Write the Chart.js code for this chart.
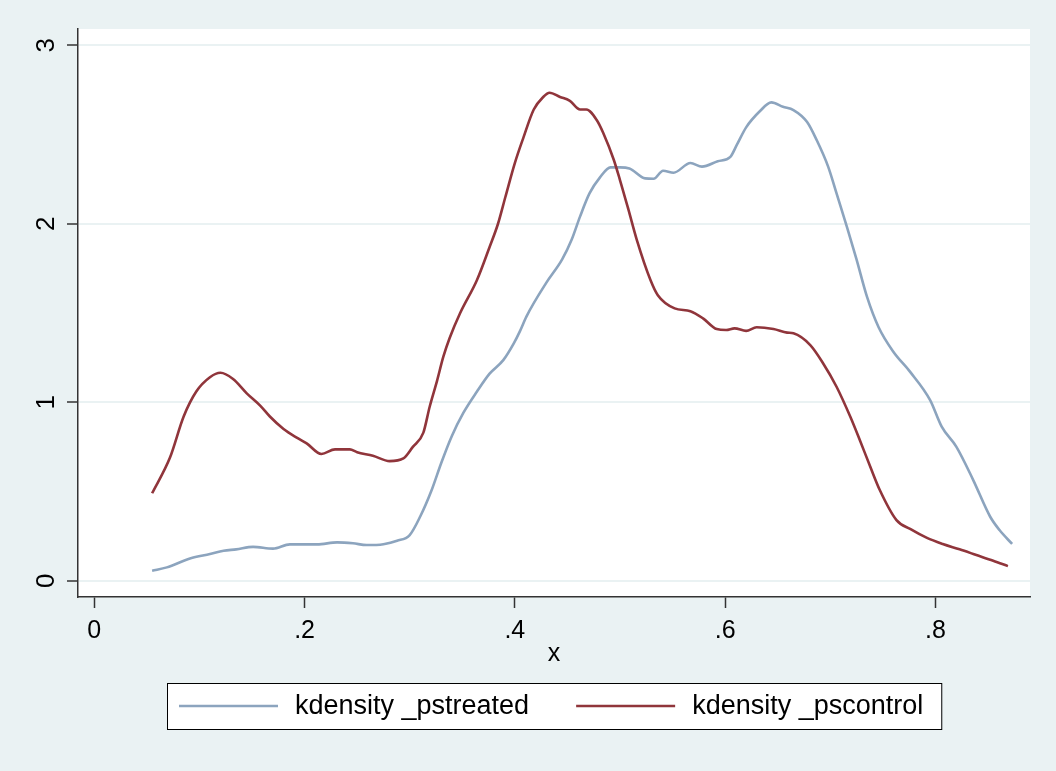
<!DOCTYPE html>
<html>
<head>
<meta charset="utf-8">
<script src="https://cdn.jsdelivr.net/npm/chart.js@4"></script>
<style>
  html, body { margin: 0; padding: 0; background: #eaf2f3; }
</style>
</head>
<body>
<canvas id="c" width="1056" height="771"></canvas>
<script>
// kdensity of the propensity score
const treatedX = [0.055, 0.069, 0.091, 0.110, 0.123, 0.135, 0.151, 0.170, 0.186, 0.212, 0.231, 0.246,
  0.259, 0.275, 0.288, 0.300, 0.310, 0.321, 0.330, 0.340, 0.351, 0.364, 0.376, 0.389, 0.399, 0.405,
  0.411, 0.430, 0.445, 0.454, 0.462, 0.471, 0.481, 0.491, 0.500, 0.509, 0.524, 0.532, 0.541, 0.551,
  0.567, 0.578, 0.593, 0.605, 0.611, 0.620, 0.633, 0.644, 0.655, 0.665, 0.678, 0.687, 0.698, 0.706,
  0.716, 0.725, 0.735, 0.746, 0.760, 0.776, 0.795, 0.806, 0.820, 0.836, 0.852, 0.861, 0.873]
const treatedY = [0.056, 0.075, 0.125, 0.150, 0.168, 0.176, 0.190, 0.180, 0.204, 0.204, 0.215, 0.210,
  0.200, 0.205, 0.224, 0.256, 0.360, 0.510, 0.660, 0.810, 0.940, 1.060, 1.160, 1.236, 1.330, 1.400,
  1.480, 1.670, 1.800, 1.910, 2.040, 2.170, 2.260, 2.316, 2.316, 2.310, 2.254, 2.252, 2.297, 2.286,
  2.340, 2.320, 2.350, 2.375, 2.440, 2.540, 2.630, 2.680, 2.655, 2.637, 2.570, 2.470, 2.320, 2.170,
  1.980, 1.800, 1.590, 1.420, 1.283, 1.170, 1.012, 0.863, 0.750, 0.564, 0.360, 0.284, 0.206]

const controlX = [0.055, 0.072, 0.085, 0.097, 0.110, 0.120, 0.132, 0.145, 0.158, 0.167, 0.180, 0.193,
  0.202, 0.216, 0.229, 0.243, 0.250, 0.265, 0.281, 0.294, 0.303, 0.313, 0.319, 0.326, 0.332, 0.338,
  0.348, 0.364, 0.376, 0.384, 0.391, 0.400, 0.408, 0.418, 0.427, 0.433, 0.443, 0.452, 0.462, 0.468,
  0.478, 0.484, 0.494, 0.500, 0.508, 0.516, 0.529, 0.536, 0.552, 0.567, 0.579, 0.592, 0.601, 0.609,
  0.620, 0.630, 0.646, 0.659, 0.665, 0.681, 0.693, 0.706, 0.719, 0.728, 0.738, 0.747, 0.763, 0.776,
  0.792, 0.807, 0.823, 0.839, 0.855, 0.869]
const controlY = [0.490, 0.690, 0.920, 1.060, 1.140, 1.165, 1.130, 1.050, 0.980, 0.920, 0.850, 0.800,
  0.770, 0.710, 0.736, 0.736, 0.720, 0.700, 0.670, 0.685, 0.750, 0.830, 0.975, 1.120, 1.255, 1.360,
  1.500, 1.685, 1.870, 2.000, 2.150, 2.340, 2.480, 2.640, 2.710, 2.734, 2.710, 2.690, 2.640, 2.640,
  2.580, 2.510, 2.360, 2.245, 2.080, 1.910, 1.685, 1.600, 1.526, 1.510, 1.470, 1.410, 1.405, 1.414,
  1.400, 1.420, 1.410, 1.390, 1.386, 1.320, 1.220, 1.087, 0.920, 0.790, 0.640, 0.510, 0.340, 0.290,
  0.240, 0.206, 0.176, 0.144, 0.112, 0.082]

const xTicks = [0, 0.2, 0.4, 0.6, 0.8]
const xTickLabels = ['0', '.2', '.4', '.6', '.8']
const yTicks = [0, 1, 2, 3]
const yTickLabels = ['0', '1', '2', '3']
const seriesLabels = ['kdensity _pstreated', 'kdensity _pscontrol']

const FONT = '"Liberation Sans", Arial, sans-serif'
const BG = '#eaf2f3'
const AXIS = '#333'

const plotBg = {
  id: 'plotBg',
  beforeDraw (chart) {
    const { ctx, chartArea: a } = chart
    ctx.save()
    ctx.fillStyle = BG
    ctx.fillRect(0, 0, chart.width, chart.height)
    ctx.fillStyle = '#fff'
    ctx.fillRect(a.left, a.top, a.right - a.left, a.bottom - a.top)
    ctx.restore()
  }
}

// Stata writes the y labels turned a quarter turn
const yLabels = {
  id: 'yLabels',
  afterDraw (chart) {
    const { ctx } = chart
    const y = chart.scales.y
    ctx.save()
    ctx.font = '26px ' + FONT
    ctx.fillStyle = '#000'
    ctx.textAlign = 'center'
    ctx.textBaseline = 'middle'
    yTicks.forEach((v, i) => {
      ctx.save()
      ctx.translate(47, y.getPixelForValue(v))
      ctx.rotate(-Math.PI / 2)
      ctx.fillText(yTickLabels[i], 0, 0)
      ctx.restore()
    })
    ctx.restore()
  }
}

// boxed legend under the plot
const legendBox = {
  id: 'legendBox',
  afterDraw (chart) {
    const { ctx, chartArea: a } = chart
    const sets = chart.data.datasets
    ctx.save()
    ctx.font = '27px ' + FONT
    const widths = sets.map(d => ctx.measureText(d.label).width)
    const sample = 99
    const gap = 17
    const between = 47
    const padL = 12
    const padR = 18
    let total = padL + padR + between * (sets.length - 1)
    widths.forEach(w => { total += sample + gap + w })
    const left = Math.round((a.left + a.right) / 2 - total / 2)
    const top = 683
    const height = 46
    ctx.fillStyle = '#fff'
    ctx.fillRect(left, top, total, height)
    ctx.strokeStyle = '#000'
    ctx.lineWidth = 1
    ctx.strokeRect(left + 0.5, top + 0.5, total, height)
    const mid = top + height / 2
    let x = left + padL
    sets.forEach((d, i) => {
      ctx.strokeStyle = d.borderColor
      ctx.lineWidth = d.borderWidth
      ctx.beginPath()
      ctx.moveTo(x, mid)
      ctx.lineTo(x + sample, mid)
      ctx.stroke()
      x += sample + gap
      ctx.fillStyle = '#000'
      ctx.textBaseline = 'middle'
      ctx.fillText(d.label, x, mid + 1)
      x += widths[i] + between
    })
    ctx.restore()
  }
}

const chart = new Chart(document.getElementById('c'), {
  type: 'line',
  data: {
    datasets: [{
      label: seriesLabels[0],
      data: treatedX.map((x, i) => ({ x, y: treatedY[i] })),
      borderColor: 'rgb(140, 164, 190)',
      borderWidth: 2.6,
      pointRadius: 0,
      cubicInterpolationMode: 'monotone',
      order: 2
    }, {
      label: seriesLabels[1],
      data: controlX.map((x, i) => ({ x, y: controlY[i] })),
      borderColor: 'rgb(144, 53, 59)',
      borderWidth: 2.6,
      pointRadius: 0,
      cubicInterpolationMode: 'monotone',
      order: 1
    }]
  },
  options: {
    responsive: false,
    animation: false,
    layout: { padding: { left: 0, top: 29, right: 26, bottom: 94 } },
    plugins: {
      legend: { display: false },
      tooltip: { enabled: false }
    },
    scales: {
      x: {
        type: 'linear',
        min: -0.0155,
        max: 0.89,
        afterBuildTicks: s => { s.ticks = xTicks.map(v => ({ value: v })) },
        ticks: {
          callback: (v, i) => xTickLabels[i],
          font: { family: FONT, size: 25 },
          color: '#000',
          padding: 8,
          maxRotation: 0,
          autoSkip: false
        },
        grid: { drawOnChartArea: false, tickLength: 11, tickColor: AXIS, tickWidth: 1.5 },
        border: { color: AXIS, width: 1.5 },
        title: {
          display: true,
          text: 'x',
          font: { family: FONT, size: 25 },
          color: '#000',
          padding: { top: 0, bottom: 8 }
        },
        afterFit: s => { s.height = 80 }
      },
      y: {
        min: -0.091,
        max: 3.091,
        afterBuildTicks: s => { s.ticks = yTicks.map(v => ({ value: v })) },
        ticks: { display: false },
        grid: { color: BG, lineWidth: 2, tickLength: 11, tickColor: AXIS, tickWidth: 1.5 },
        border: { color: AXIS, width: 1.5 },
        afterFit: s => { s.width = 78 }
      }
    }
  },
  plugins: [plotBg, yLabels, legendBox]
})
</script>
</body>
</html>
